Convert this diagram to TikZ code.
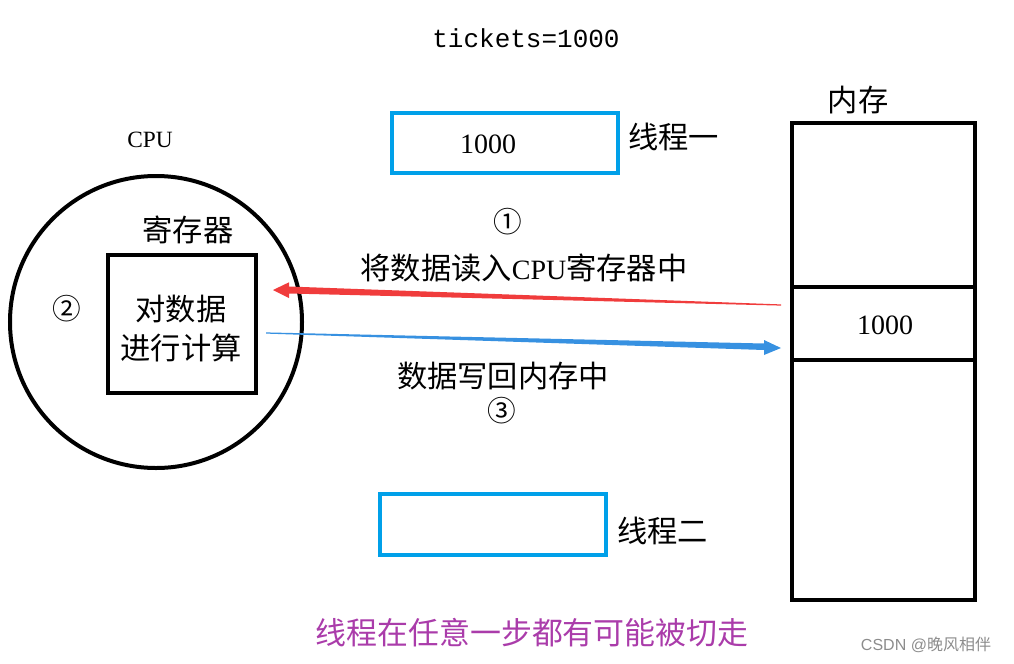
\documentclass[tikz,border=0pt]{standalone}
\usepackage{fontspec}
\setmainfont{Liberation Serif}
\newfontfamily\cjk{Noto Sans CJK SC}
\newfontfamily\monof{Liberation Mono}
\newfontfamily\sansf{Liberation Sans}
\definecolor{boxblue}{RGB}{0,160,233}
\definecolor{redarrow}{RGB}{240,60,60}
\definecolor{bluearrow}{RGB}{55,145,225}
\definecolor{purp}{RGB}{170,60,170}
\definecolor{wmgray}{RGB}{140,140,140}
\begin{document}
\begin{tikzpicture}[x=0.75pt,y=-0.75pt,
  lbl/.style={inner sep=0pt, font=\fontsize{21}{25}\selectfont},
  cjklbl/.style={inner sep=0pt, font=\fontsize{22.7}{27}\selectfont\cjk},
  circnum/.style={inner sep=0pt, font=\fontsize{21.5}{25}\selectfont\cjk},
  thbox/.style={draw=boxblue, line width=3.2pt, minimum width=169.5pt, minimum height=45.5pt, inner sep=0pt},
  blkbox/.style={draw=black, line width=3pt, inner sep=0pt}]
\path[use as bounding box] (0,0) rectangle (1014,664);

% title
\node[inner sep=0pt, font=\fontsize{19.5}{23}\selectfont\monof] (title) at (526,38) {tickets=1000};

% thread boxes
\node[thbox] (t1) at (505,143) {};
\node[lbl] (t1v) at (488,144) {1000};
\node[cjklbl, anchor=west] (t1l) at (628,137) {线程一};
\node[thbox] (t2) at (493,524.5) {};
\node[cjklbl, anchor=west] (t2l) at (617,531) {线程二};

% CPU
\node[inner sep=0pt, font=\fontsize{17.5}{21}\selectfont] (cpul) at (150,140) {CPU};
\node[blkbox, circle, minimum size=219pt] (cpu) at (156,322) {};
\node[cjklbl] (regl) at (188,230) {寄存器};
\node[blkbox, minimum width=111pt, minimum height=103.5pt] (reg) at (182,324) {};
\node[cjklbl] (calc1) at (181,309) {对数据};
\node[cjklbl] (calc2) at (181,348) {进行计算};
\node[circnum] (n2) at (67,309) {②};

% memory
\node[blkbox, minimum width=137.25pt, minimum height=357.75pt] (mem) at (883.5,361.5) {};
\coordinate (d1w) at (792,287); \coordinate (d1e) at (975,287);
\coordinate (d2w) at (792,360); \coordinate (d2e) at (975,360);
\draw[line width=3pt] (d1w) -- (d1e);
\draw[line width=3pt] (d2w) -- (d2e);
\node[cjklbl] (meml) at (858,100) {内存};
\node[lbl] (memv) at (885,325) {1000};

% step 1
\node[circnum] (n1) at (508,222) {①};
\node[cjklbl] (s1) at (524,268) {将数据读入{\fontsize{21}{25}\selectfont\rmfamily CPU}寄存器中};
\coordinate (rtail) at (781,305);
\coordinate (rtip) at (273,290);
\fill[redarrow] (781,304.4) -- (289,286.5) -- (289,282.3) -- (rtip) -- (289,298) -- (289,293.5) -- (781,305.6) -- cycle;

% step 3
\coordinate (btail) at (266,333);
\coordinate (btip) at (781,348);
\fill[bluearrow] (266,332.4) -- (764,343.5) -- (764,340) -- (btip) -- (764,355) -- (764,350) -- (266,333.6) -- cycle;
\node[cjklbl] (s3) at (503,376) {数据写回内存中};
\node[circnum] (n3) at (502,411) {③};

% footer
\node[inner sep=0pt, font=\fontsize{23.2}{27}\selectfont\cjk, text=purp] (foot) at (532,633) {线程在任意一步都有可能被切走};
\node[inner sep=0pt, font=\fontsize{12}{14}\selectfont, text=wmgray] (wm) at (926,645) {{\sansf CSDN @}{\cjk 晚风相伴}};
\end{tikzpicture}
\end{document}
